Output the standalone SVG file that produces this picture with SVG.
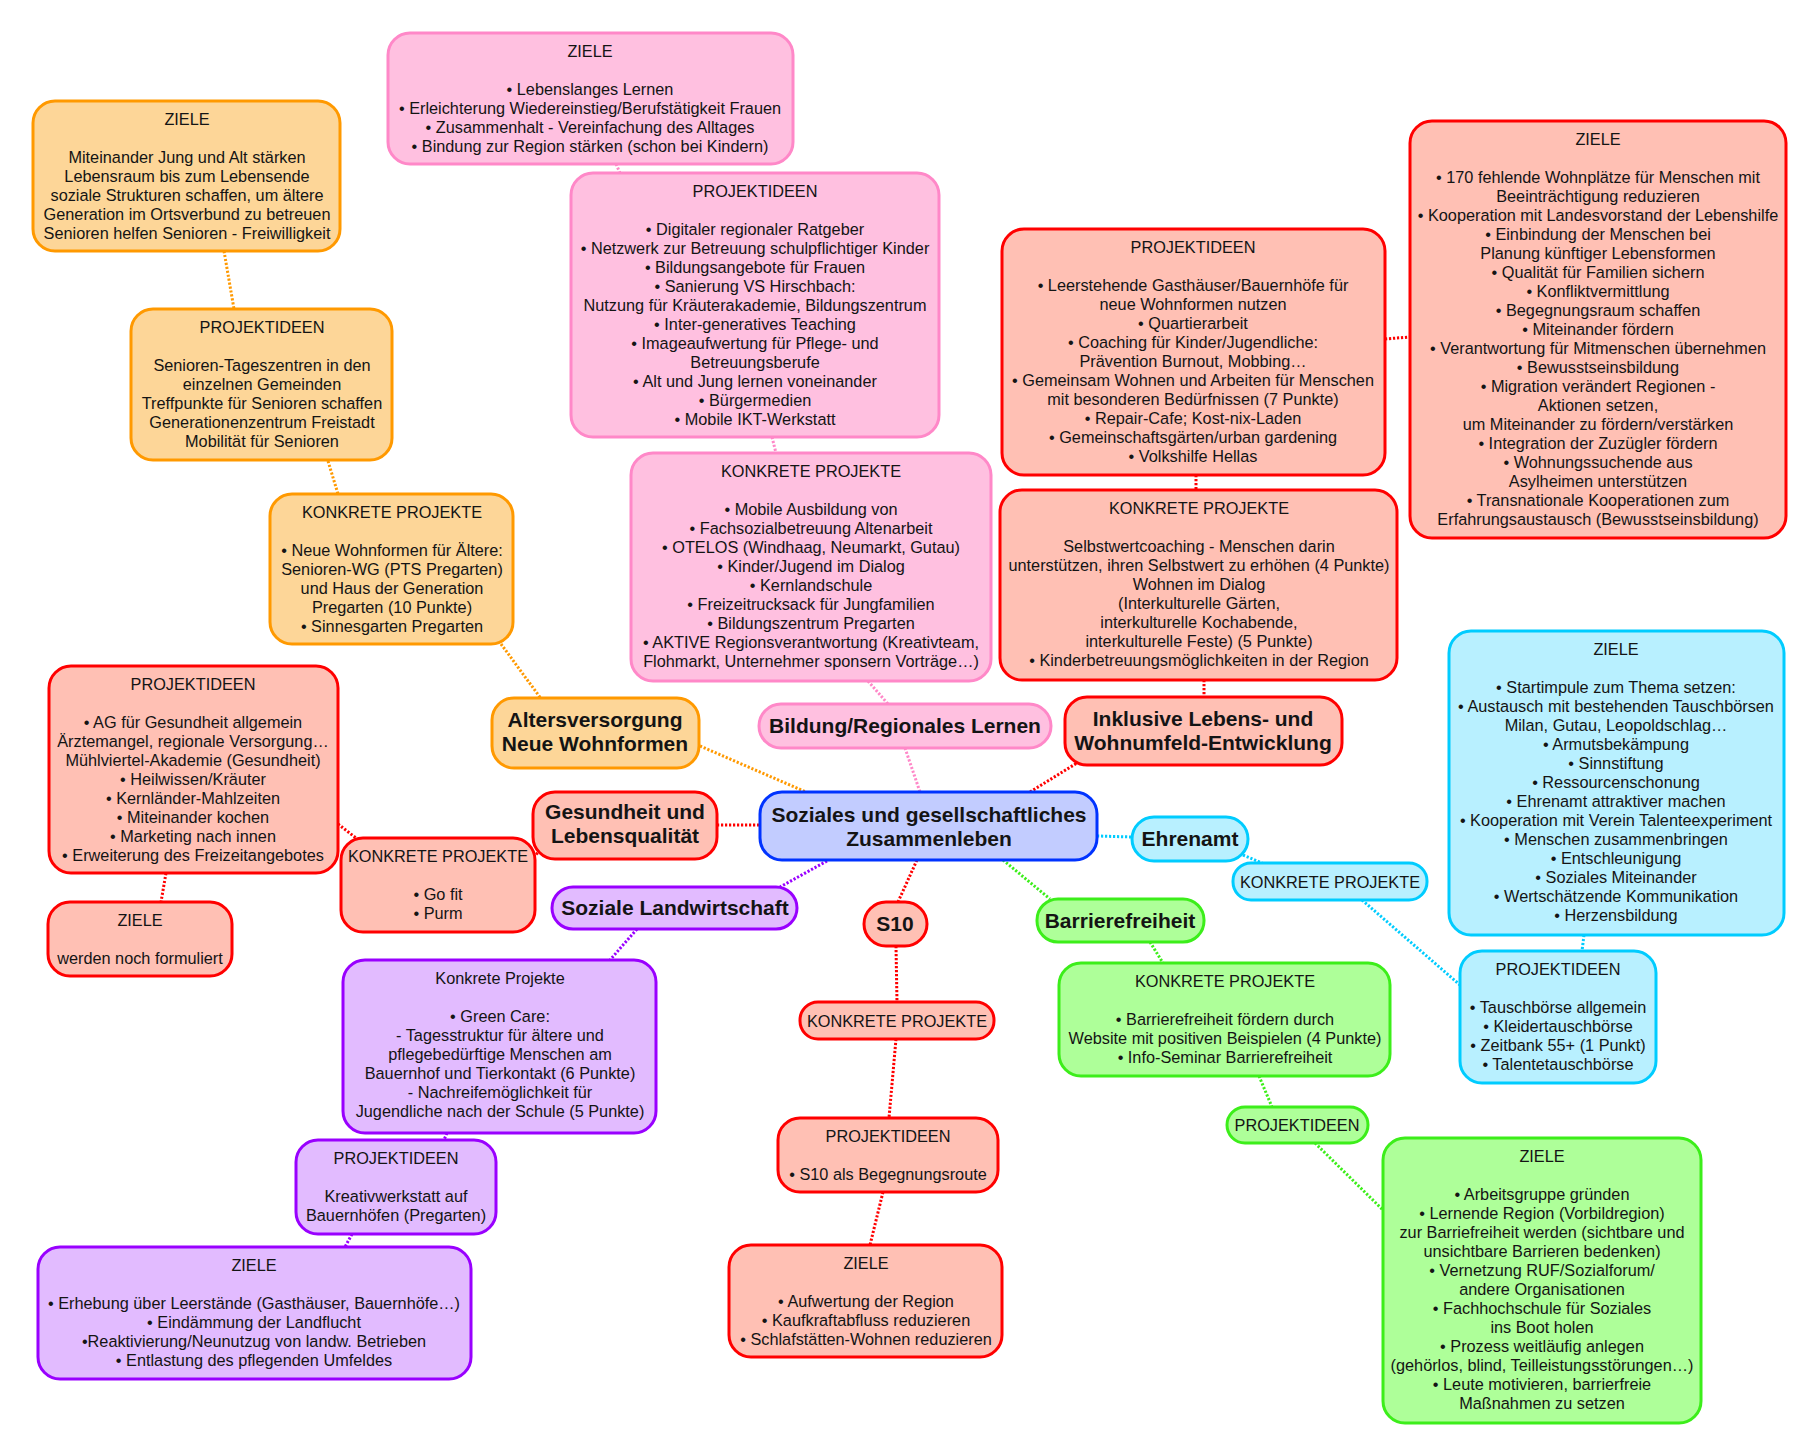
<svg xmlns="http://www.w3.org/2000/svg" width="1819" height="1453" viewBox="0 0 1819 1453">
<style>
text{font-family:"Liberation Sans",Arial,sans-serif;fill:#141414;text-anchor:middle}
.t{font-size:16.3px}
.b{font-size:21px;font-weight:bold}
rect{stroke-width:3}
.or{fill:#FDD698;stroke:#FF9900}
.pk{fill:#FFC0E0;stroke:#FF88C8}
.rd{fill:#FFC0B4;stroke:#FF0000}
.bl{fill:#C2CCFF;stroke:#0033FF}
.cy{fill:#B8F0FF;stroke:#00CCFF}
.gr{fill:#AEFF99;stroke:#3CEE1A}
.pu{fill:#E2BBFF;stroke:#9900FF}
#connectors line{stroke-width:3;stroke-dasharray:2.2 1.8;fill:none}
.lor{stroke:#FF9900}.lpk{stroke:#FF88C8}.lrd{stroke:#FF0000}.lcy{stroke:#00CCFF}.lgr{stroke:#3CEE1A}.lpu{stroke:#9900FF}
</style>
<rect x="0" y="0" width="1819" height="1453" fill="#ffffff" style="stroke:none"/>
<g id="connectors">
<line class="lor" x1="224" y1="251" x2="234" y2="309"/>
<line class="lor" x1="328" y1="461" x2="338" y2="494"/>
<line class="lor" x1="501" y1="644" x2="542" y2="700"/>
<line class="lor" x1="700" y1="746" x2="806" y2="792"/>
<line class="lpk" x1="616" y1="164" x2="620" y2="173"/>
<line class="lpk" x1="772" y1="437" x2="776" y2="453"/>
<line class="lpk" x1="868" y1="681" x2="888" y2="704"/>
<line class="lpk" x1="905" y1="748" x2="920" y2="792"/>
<line class="lrd" x1="1030" y1="792" x2="1077" y2="763"/>
<line class="lrd" x1="1204" y1="680" x2="1204" y2="697"/>
<line class="lrd" x1="1196" y1="475" x2="1196" y2="490"/>
<line class="lrd" x1="1385" y1="339" x2="1410" y2="337"/>
<line class="lrd" x1="717" y1="825" x2="760" y2="825"/>
<line class="lrd" x1="533" y1="857" x2="540" y2="851"/>
<line class="lrd" x1="338" y1="824" x2="356" y2="838"/>
<line class="lrd" x1="166" y1="873" x2="161" y2="902"/>
<line class="lpu" x1="827" y1="861" x2="780" y2="887"/>
<line class="lpu" x1="637" y1="929" x2="610" y2="960"/>
<line class="lpu" x1="447" y1="1133" x2="444" y2="1140"/>
<line class="lpu" x1="352" y1="1234" x2="345" y2="1247"/>
<line class="lrd" x1="917" y1="860" x2="898" y2="902"/>
<line class="lrd" x1="896" y1="946" x2="897" y2="1002"/>
<line class="lrd" x1="896" y1="1039" x2="889" y2="1118"/>
<line class="lrd" x1="883" y1="1192" x2="870" y2="1245"/>
<line class="lcy" x1="1097" y1="836" x2="1132" y2="837"/>
<line class="lcy" x1="1243" y1="855" x2="1262" y2="863"/>
<line class="lcy" x1="1362" y1="900" x2="1460" y2="985"/>
<line class="lcy" x1="1584" y1="935" x2="1582" y2="951"/>
<line class="lgr" x1="1003" y1="860" x2="1050" y2="899"/>
<line class="lgr" x1="1150" y1="942" x2="1163" y2="963"/>
<line class="lgr" x1="1259" y1="1076" x2="1272" y2="1107"/>
<line class="lgr" x1="1315" y1="1143" x2="1383" y2="1210"/>
</g>

<g id="central">
<rect class="bl" x="760" y="792" width="337" height="68" rx="22"/>
<text class="b"><tspan x="929" y="822">Soziales und gesellschaftliches</tspan><tspan x="929" y="846">Zusammenleben</tspan></text>
</g>

<g id="altersversorgung">
<rect class="or" x="492" y="698" width="207" height="70" rx="22"/>
<text class="b"><tspan x="595" y="727">Altersversorgung</tspan><tspan x="595" y="751">Neue Wohnformen</tspan></text>
</g>
<g id="alt-ziele">
<rect class="or" x="33" y="101" width="307" height="150" rx="22"/>
<text class="t"><tspan x="187" y="125">ZIELE</tspan><tspan x="187" y="163">Miteinander Jung und Alt stärken</tspan><tspan x="187" y="182">Lebensraum bis zum Lebensende</tspan><tspan x="187" y="201">soziale Strukturen schaffen, um ältere</tspan><tspan x="187" y="220">Generation im Ortsverbund zu betreuen</tspan><tspan x="187" y="239">Senioren helfen Senioren - Freiwilligkeit</tspan></text>
</g>
<g id="alt-projektideen">
<rect class="or" x="131" y="309" width="261" height="151" rx="22"/>
<text class="t"><tspan x="262" y="333">PROJEKTIDEEN</tspan><tspan x="262" y="371">Senioren-Tageszentren in den</tspan><tspan x="262" y="390">einzelnen Gemeinden</tspan><tspan x="262" y="409">Treffpunkte für Senioren schaffen</tspan><tspan x="262" y="428">Generationenzentrum Freistadt</tspan><tspan x="262" y="447">Mobilität für Senioren</tspan></text>
</g>
<g id="alt-konkret">
<rect class="or" x="270" y="494" width="243" height="150" rx="22"/>
<text class="t"><tspan x="392" y="518">KONKRETE PROJEKTE</tspan><tspan x="392" y="556">• Neue Wohnformen für Ältere:</tspan><tspan x="392" y="575">Senioren-WG (PTS Pregarten)</tspan><tspan x="392" y="594">und Haus der Generation</tspan><tspan x="392" y="613">Pregarten (10 Punkte)</tspan><tspan x="392" y="632">• Sinnesgarten Pregarten</tspan></text>
</g>

<g id="bildung">
<rect class="pk" x="759" y="704" width="292" height="44" rx="22"/>
<text class="b" x="905" y="733">Bildung/Regionales Lernen</text>
</g>
<g id="bil-ziele">
<rect class="pk" x="388" y="33" width="405" height="131" rx="22"/>
<text class="t"><tspan x="590" y="57">ZIELE</tspan><tspan x="590" y="95">• Lebenslanges Lernen</tspan><tspan x="590" y="114">• Erleichterung Wiedereinstieg/Berufstätigkeit Frauen</tspan><tspan x="590" y="133">• Zusammenhalt - Vereinfachung des Alltages</tspan><tspan x="590" y="152">• Bindung zur Region stärken (schon bei Kindern)</tspan></text>
</g>
<g id="bil-projektideen">
<rect class="pk" x="571" y="173" width="368" height="264" rx="22"/>
<text class="t"><tspan x="755" y="197">PROJEKTIDEEN</tspan><tspan x="755" y="235">• Digitaler regionaler Ratgeber</tspan><tspan x="755" y="254">• Netzwerk zur Betreuung schulpflichtiger Kinder</tspan><tspan x="755" y="273">• Bildungsangebote für Frauen</tspan><tspan x="755" y="292">• Sanierung VS Hirschbach:</tspan><tspan x="755" y="311">Nutzung für Kräuterakademie, Bildungszentrum</tspan><tspan x="755" y="330">• Inter-generatives Teaching</tspan><tspan x="755" y="349">• Imageaufwertung für Pflege- und</tspan><tspan x="755" y="368">Betreuungsberufe</tspan><tspan x="755" y="387">• Alt und Jung lernen voneinander</tspan><tspan x="755" y="406">• Bürgermedien</tspan><tspan x="755" y="425">• Mobile IKT-Werkstatt</tspan></text>
</g>
<g id="bil-konkret">
<rect class="pk" x="631" y="453" width="360" height="228" rx="22"/>
<text class="t"><tspan x="811" y="477">KONKRETE PROJEKTE</tspan><tspan x="811" y="515">• Mobile Ausbildung von</tspan><tspan x="811" y="534">• Fachsozialbetreuung Altenarbeit</tspan><tspan x="811" y="553">• OTELOS (Windhaag, Neumarkt, Gutau)</tspan><tspan x="811" y="572">• Kinder/Jugend im Dialog</tspan><tspan x="811" y="591">• Kernlandschule</tspan><tspan x="811" y="610">• Freizeitrucksack für Jungfamilien</tspan><tspan x="811" y="629">• Bildungszentrum Pregarten</tspan><tspan x="811" y="648">• AKTIVE Regionsverantwortung (Kreativteam,</tspan><tspan x="811" y="667">Flohmarkt, Unternehmer sponsern Vorträge…)</tspan></text>
</g>

<g id="inklusive">
<rect class="rd" x="1065" y="697" width="277" height="68" rx="22"/>
<text class="b"><tspan x="1203" y="726">Inklusive Lebens- und</tspan><tspan x="1203" y="750">Wohnumfeld-Entwicklung</tspan></text>
</g>
<g id="ink-projektideen">
<rect class="rd" x="1002" y="229" width="383" height="246" rx="22"/>
<text class="t"><tspan x="1193" y="253">PROJEKTIDEEN</tspan><tspan x="1193" y="291">• Leerstehende Gasthäuser/Bauernhöfe für</tspan><tspan x="1193" y="310">neue Wohnformen nutzen</tspan><tspan x="1193" y="329">• Quartierarbeit</tspan><tspan x="1193" y="348">• Coaching für Kinder/Jugendliche:</tspan><tspan x="1193" y="367">Prävention Burnout, Mobbing…</tspan><tspan x="1193" y="386">• Gemeinsam Wohnen und Arbeiten für Menschen</tspan><tspan x="1193" y="405">mit besonderen Bedürfnissen (7 Punkte)</tspan><tspan x="1193" y="424">• Repair-Cafe; Kost-nix-Laden</tspan><tspan x="1193" y="443">• Gemeinschaftsgärten/urban gardening</tspan><tspan x="1193" y="462">• Volkshilfe Hellas</tspan></text>
</g>
<g id="ink-konkret">
<rect class="rd" x="1000" y="490" width="397" height="190" rx="22"/>
<text class="t"><tspan x="1199" y="514">KONKRETE PROJEKTE</tspan><tspan x="1199" y="552">Selbstwertcoaching - Menschen darin</tspan><tspan x="1199" y="571">unterstützen, ihren Selbstwert zu erhöhen (4 Punkte)</tspan><tspan x="1199" y="590">Wohnen im Dialog</tspan><tspan x="1199" y="609">(Interkulturelle Gärten,</tspan><tspan x="1199" y="628">interkulturelle Kochabende,</tspan><tspan x="1199" y="647">interkulturelle Feste) (5 Punkte)</tspan><tspan x="1199" y="666">• Kinderbetreuungsmöglichkeiten in der Region</tspan></text>
</g>
<g id="ink-ziele">
<rect class="rd" x="1410" y="121" width="376" height="417" rx="22"/>
<text class="t"><tspan x="1598" y="145">ZIELE</tspan><tspan x="1598" y="183">• 170 fehlende Wohnplätze für Menschen mit</tspan><tspan x="1598" y="202">Beeinträchtigung reduzieren</tspan><tspan x="1598" y="221">• Kooperation mit Landesvorstand der Lebenshilfe</tspan><tspan x="1598" y="240">• Einbindung der Menschen bei</tspan><tspan x="1598" y="259">Planung künftiger Lebensformen</tspan><tspan x="1598" y="278">• Qualität für Familien sichern</tspan><tspan x="1598" y="297">• Konfliktvermittlung</tspan><tspan x="1598" y="316">• Begegnungsraum schaffen</tspan><tspan x="1598" y="335">• Miteinander fördern</tspan><tspan x="1598" y="354">• Verantwortung für Mitmenschen übernehmen</tspan><tspan x="1598" y="373">• Bewusstseinsbildung</tspan><tspan x="1598" y="392">• Migration verändert Regionen -</tspan><tspan x="1598" y="411">Aktionen setzen,</tspan><tspan x="1598" y="430">um Miteinander zu fördern/verstärken</tspan><tspan x="1598" y="449">• Integration der Zuzügler fördern</tspan><tspan x="1598" y="468">• Wohnungssuchende aus</tspan><tspan x="1598" y="487">Asylheimen unterstützen</tspan><tspan x="1598" y="506">• Transnationale Kooperationen zum</tspan><tspan x="1598" y="525">Erfahrungsaustausch (Bewusstseinsbildung)</tspan></text>
</g>

<g id="gesundheit">
<rect class="rd" x="533" y="792" width="184" height="67" rx="22"/>
<text class="b"><tspan x="625" y="819">Gesundheit und</tspan><tspan x="625" y="843">Lebensqualität</tspan></text>
</g>
<g id="ges-projektideen">
<rect class="rd" x="49" y="666" width="289" height="207" rx="22"/>
<text class="t"><tspan x="193" y="690">PROJEKTIDEEN</tspan><tspan x="193" y="728">• AG für Gesundheit allgemein</tspan><tspan x="193" y="747">Ärztemangel, regionale Versorgung…</tspan><tspan x="193" y="766">Mühlviertel-Akademie (Gesundheit)</tspan><tspan x="193" y="785">• Heilwissen/Kräuter</tspan><tspan x="193" y="804">• Kernländer-Mahlzeiten</tspan><tspan x="193" y="823">• Miteinander kochen</tspan><tspan x="193" y="842">• Marketing nach innen</tspan><tspan x="193" y="861">• Erweiterung des Freizeitangebotes</tspan></text>
</g>
<g id="ges-konkret">
<rect class="rd" x="341" y="838" width="194" height="94" rx="22"/>
<text class="t"><tspan x="438" y="862">KONKRETE PROJEKTE</tspan><tspan x="438" y="900">• Go fit</tspan><tspan x="438" y="919">• Purm</tspan></text>
</g>
<g id="ges-ziele">
<rect class="rd" x="48" y="902" width="184" height="74" rx="22"/>
<text class="t"><tspan x="140" y="926">ZIELE</tspan><tspan x="140" y="964">werden noch formuliert</tspan></text>
</g>

<g id="landwirtschaft">
<rect class="pu" x="552" y="887" width="245" height="42" rx="21"/>
<text class="b" x="675" y="915">Soziale Landwirtschaft</text>
</g>
<g id="lw-konkret">
<rect class="pu" x="343" y="960" width="313" height="173" rx="22"/>
<text class="t"><tspan x="500" y="984">Konkrete Projekte</tspan><tspan x="500" y="1022">• Green Care:</tspan><tspan x="500" y="1041">- Tagesstruktur für ältere und</tspan><tspan x="500" y="1060">pflegebedürftige Menschen am</tspan><tspan x="500" y="1079">Bauernhof und Tierkontakt (6 Punkte)</tspan><tspan x="500" y="1098">- Nachreifemöglichkeit für</tspan><tspan x="500" y="1117">Jugendliche nach der Schule (5 Punkte)</tspan></text>
</g>
<g id="lw-projektideen">
<rect class="pu" x="296" y="1140" width="200" height="94" rx="22"/>
<text class="t"><tspan x="396" y="1164">PROJEKTIDEEN</tspan><tspan x="396" y="1202">Kreativwerkstatt auf</tspan><tspan x="396" y="1221">Bauernhöfen (Pregarten)</tspan></text>
</g>
<g id="lw-ziele">
<rect class="pu" x="38" y="1247" width="433" height="132" rx="22"/>
<text class="t"><tspan x="254" y="1271">ZIELE</tspan><tspan x="254" y="1309">• Erhebung über Leerstände (Gasthäuser, Bauernhöfe…)</tspan><tspan x="254" y="1328">• Eindämmung der Landflucht</tspan><tspan x="254" y="1347">•Reaktivierung/Neunutzug von landw. Betrieben</tspan><tspan x="254" y="1366">• Entlastung des pflegenden Umfeldes</tspan></text>
</g>

<g id="s10">
<rect class="rd" x="864" y="902" width="63" height="44" rx="22"/>
<text class="b" x="895" y="931">S10</text>
</g>
<g id="s10-konkret">
<rect class="rd" x="800" y="1002" width="194" height="37" rx="18"/>
<text class="t" x="897" y="1027">KONKRETE PROJEKTE</text>
</g>
<g id="s10-projektideen">
<rect class="rd" x="778" y="1118" width="220" height="74" rx="22"/>
<text class="t"><tspan x="888" y="1142">PROJEKTIDEEN</tspan><tspan x="888" y="1180">• S10 als Begegnungsroute</tspan></text>
</g>
<g id="s10-ziele">
<rect class="rd" x="729" y="1245" width="273" height="112" rx="22"/>
<text class="t"><tspan x="866" y="1269">ZIELE</tspan><tspan x="866" y="1307">• Aufwertung der Region</tspan><tspan x="866" y="1326">• Kaufkraftabfluss reduzieren</tspan><tspan x="866" y="1345">• Schlafstätten-Wohnen reduzieren</tspan></text>
</g>

<g id="ehrenamt">
<rect class="cy" x="1132" y="817" width="116" height="44" rx="22"/>
<text class="b" x="1190" y="846">Ehrenamt</text>
</g>
<g id="ehr-konkret">
<rect class="cy" x="1233" y="863" width="194" height="37" rx="18"/>
<text class="t" x="1330" y="888">KONKRETE PROJEKTE</text>
</g>
<g id="ehr-projektideen">
<rect class="cy" x="1460" y="951" width="196" height="132" rx="22"/>
<text class="t"><tspan x="1558" y="975">PROJEKTIDEEN</tspan><tspan x="1558" y="1013">• Tauschbörse allgemein</tspan><tspan x="1558" y="1032">• Kleidertauschbörse</tspan><tspan x="1558" y="1051">• Zeitbank 55+ (1 Punkt)</tspan><tspan x="1558" y="1070">• Talentetauschbörse</tspan></text>
</g>
<g id="ehr-ziele">
<rect class="cy" x="1449" y="631" width="335" height="304" rx="22"/>
<text class="t"><tspan x="1616" y="655">ZIELE</tspan><tspan x="1616" y="693">• Startimpule zum Thema setzen:</tspan><tspan x="1616" y="712">• Austausch mit bestehenden Tauschbörsen</tspan><tspan x="1616" y="731">Milan, Gutau, Leopoldschlag…</tspan><tspan x="1616" y="750">• Armutsbekämpung</tspan><tspan x="1616" y="769">• Sinnstiftung</tspan><tspan x="1616" y="788">• Ressourcenschonung</tspan><tspan x="1616" y="807">• Ehrenamt attraktiver machen</tspan><tspan x="1616" y="826">• Kooperation mit Verein Talenteexperiment</tspan><tspan x="1616" y="845">• Menschen zusammenbringen</tspan><tspan x="1616" y="864">• Entschleunigung</tspan><tspan x="1616" y="883">• Soziales Miteinander</tspan><tspan x="1616" y="902">• Wertschätzende Kommunikation</tspan><tspan x="1616" y="921">• Herzensbildung</tspan></text>
</g>

<g id="barrierefreiheit">
<rect class="gr" x="1037" y="899" width="167" height="43" rx="21"/>
<text class="b" x="1120" y="928">Barrierefreiheit</text>
</g>
<g id="bar-konkret">
<rect class="gr" x="1059" y="963" width="331" height="113" rx="22"/>
<text class="t"><tspan x="1225" y="987">KONKRETE PROJEKTE</tspan><tspan x="1225" y="1025">• Barrierefreiheit fördern durch</tspan><tspan x="1225" y="1044">Website mit positiven Beispielen (4 Punkte)</tspan><tspan x="1225" y="1063">• Info-Seminar Barrierefreiheit</tspan></text>
</g>
<g id="bar-projektideen">
<rect class="gr" x="1227" y="1107" width="141" height="36" rx="18"/>
<text class="t" x="1297" y="1131">PROJEKTIDEEN</text>
</g>
<g id="bar-ziele">
<rect class="gr" x="1383" y="1138" width="318" height="285" rx="22"/>
<text class="t"><tspan x="1542" y="1162">ZIELE</tspan><tspan x="1542" y="1200">• Arbeitsgruppe gründen</tspan><tspan x="1542" y="1219">• Lernende Region (Vorbildregion)</tspan><tspan x="1542" y="1238">zur Barriefreiheit werden (sichtbare und</tspan><tspan x="1542" y="1257">unsichtbare Barrieren bedenken)</tspan><tspan x="1542" y="1276">• Vernetzung RUF/Sozialforum/</tspan><tspan x="1542" y="1295">andere Organisationen</tspan><tspan x="1542" y="1314">• Fachhochschule für Soziales</tspan><tspan x="1542" y="1333">ins Boot holen</tspan><tspan x="1542" y="1352">• Prozess weitläufig anlegen</tspan><tspan x="1542" y="1371">(gehörlos, blind, Teilleistungsstörungen…)</tspan><tspan x="1542" y="1390">• Leute motivieren, barrierfreie</tspan><tspan x="1542" y="1409">Maßnahmen zu setzen</tspan></text>
</g>
</svg>
